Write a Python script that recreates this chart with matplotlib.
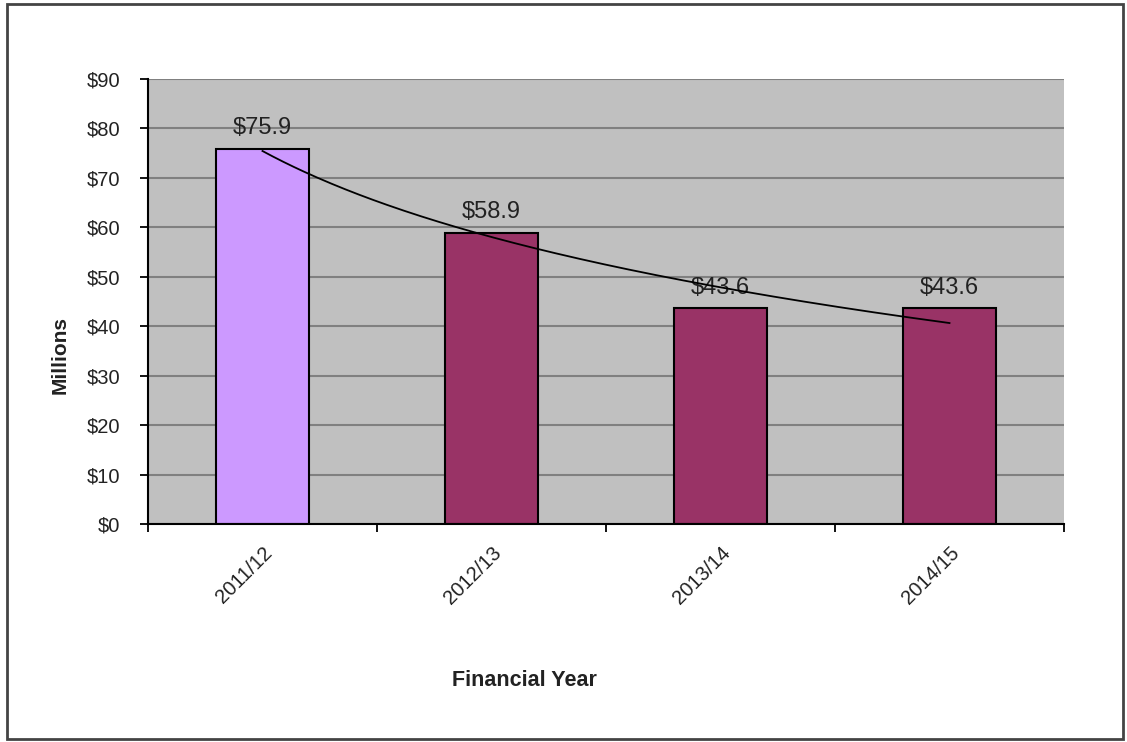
import matplotlib.pyplot as plt
import numpy as np
from matplotlib.patches import Rectangle

plt.rcParams['font.family'] = ['Liberation Sans', 'DejaVu Sans']

years = ["2011/12", "2012/13", "2013/14", "2014/15"]
spend = [75.9, 58.9, 43.6, 43.6]
bar_colors = ["#CC99FF", "#993366", "#993366", "#993366"]

fig = plt.figure(figsize=(11.27, 7.42), dpi=100)
ax = fig.add_axes([0.1313, 0.2938, 0.8128, 0.5997])
ax.set_facecolor("#C0C0C0")

x = np.arange(len(years))
ax.bar(x, spend, width=0.405, color=bar_colors, edgecolor="black", linewidth=1.5, zorder=3)

for xi, v in zip(x, spend):
    ax.text(xi, v + 2.0, "$%.1f" % v, ha="center", va="bottom", fontsize=17, color="#222222", zorder=4)

# logarithmic trend line, fitted the way Excel does it (x = 1..n)
n = np.arange(1, len(spend) + 1)
a, b = np.polyfit(np.log(n), spend, 1)
xs = np.linspace(1, len(spend), 200)
ax.plot(xs - 1, a * np.log(xs) + b, color="black", linewidth=1.3, zorder=5)

ax.set_xlim(-0.5, len(years) - 0.5)
ax.set_ylim(0, 90)
ax.set_yticks(range(0, 91, 10))
ax.set_yticklabels(["$%d" % t for t in range(0, 91, 10)], fontsize=14.5, color="#222222")
ax.yaxis.grid(True, color="#808080", linewidth=1.5, zorder=0)

ax.set_xticks(np.arange(-0.5, len(years), 1.0))
ax.set_xticklabels([])
ax.set_xticks(x, minor=True)
ax.set_xticklabels(years, minor=True, rotation=45, ha="right", rotation_mode="anchor",
                   fontsize=14.5, color="#222222")
ax.tick_params(axis="x", which="minor", length=0, pad=14)
ax.tick_params(axis="both", which="major", direction="out", length=6, width=1.3, color="black")
ax.tick_params(axis="y", pad=14)

for s in ["top", "right"]:
    ax.spines[s].set_visible(False)
for s in ["left", "bottom"]:
    ax.spines[s].set_linewidth(1.5)
    ax.spines[s].set_zorder(6)

fig.text(524 / 1127, 1 - 680 / 742, "Financial Year", ha="center", va="center",
         fontsize=15.5, fontweight="bold", color="#222222")
fig.text(60 / 1127, 1 - 355 / 742, "Millions", ha="center", va="center", rotation=90,
         fontsize=15, fontweight="bold", color="#222222")

fig.patches.append(Rectangle((7 / 1127, 3 / 742), 1116 / 1127, 735 / 742, transform=fig.transFigure,
                             fill=False, edgecolor="#444444", linewidth=2))

fig.savefig("out.png", dpi=100)
